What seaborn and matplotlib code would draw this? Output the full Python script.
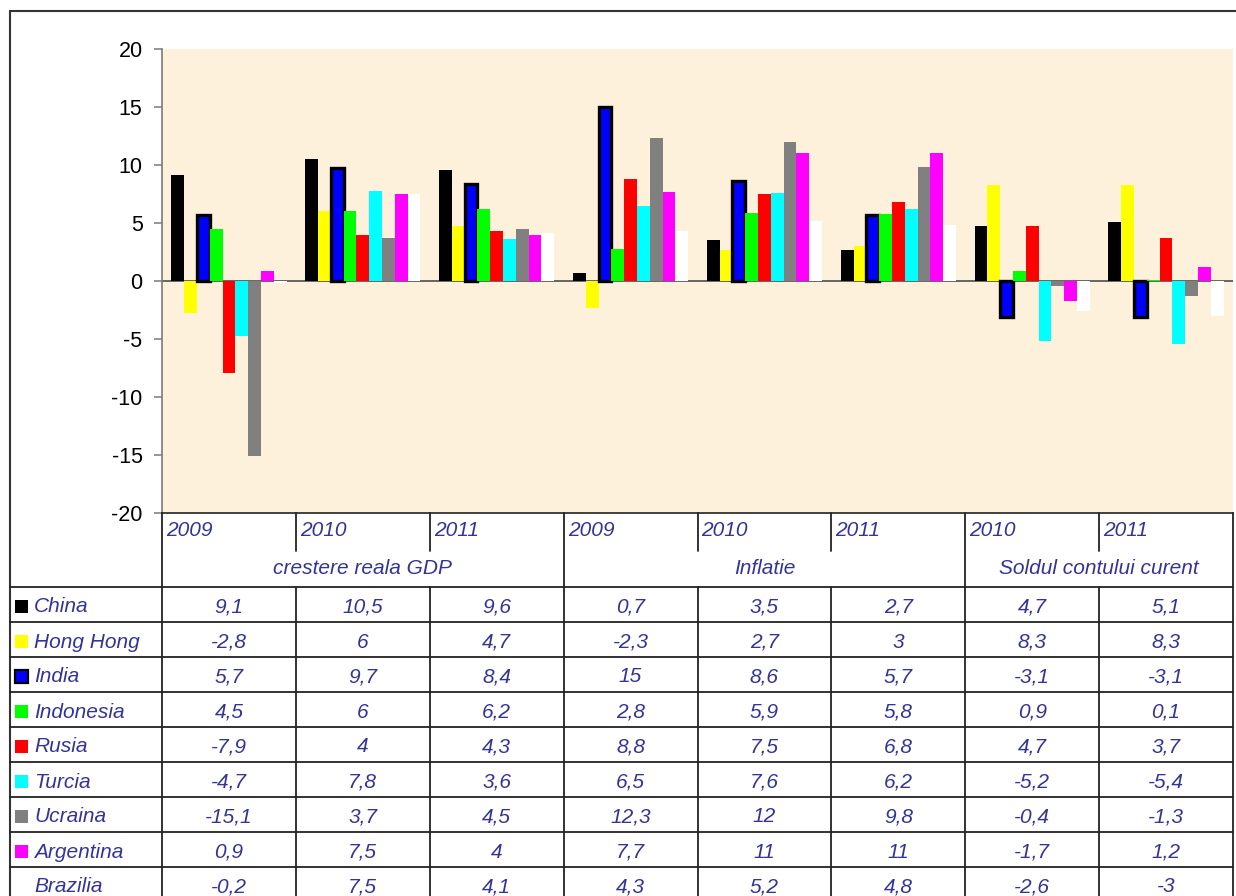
import numpy as np
import pandas as pd
import matplotlib
matplotlib.use("Agg")
import matplotlib.pyplot as plt
from matplotlib.patches import Rectangle
import seaborn as sns

# ---------------- data ----------------
countries = ["China", "Hong Hong", "India", "Indonesia", "Rusia", "Turcia",
             "Ucraina", "Argentina", "Brazilia"]
colors = ["#000000", "#FFFF00", "#0000FF", "#00FF00", "#FF0000", "#00FFFF",
          "#808080", "#FF00FF", "#FFFFFF"]
indicators = ["crestere reala GDP", "Inflatie", "Soldul contului curent"]
years = [["2009", "2010", "2011"], ["2009", "2010", "2011"], ["2010", "2011"]]

china = [9.1, 10.5, 9.6, 0.7, 3.5, 2.7, 4.7, 5.1]
hong_kong = [-2.8, 6, 4.7, -2.3, 2.7, 3, 8.3, 8.3]
india = [5.7, 9.7, 8.4, 15, 8.6, 5.7, -3.1, -3.1]
indonesia = [4.5, 6, 6.2, 2.8, 5.9, 5.8, 0.9, 0.1]
rusia = [-7.9, 4, 4.3, 8.8, 7.5, 6.8, 4.7, 3.7]
turcia = [-4.7, 7.8, 3.6, 6.5, 7.6, 6.2, -5.2, -5.4]
ucraina = [-15.1, 3.7, 4.5, 12.3, 12, 9.8, -0.4, -1.3]
argentina = [0.9, 7.5, 4, 7.7, 11, 11, -1.7, 1.2]
brazilia = [-0.2, 7.5, 4.1, 4.3, 5.2, 4.8, -2.6, -3]

series = [china, hong_kong, india, indonesia, rusia, turcia, ucraina,
          argentina, brazilia]
y_ticks = [-20, -15, -10, -5, 0, 5, 10, 15, 20]

cols = [f"{ind}|{yr}" for ind, yrs in zip(indicators, years) for yr in yrs]
rows = []
for c, vals in zip(countries, series):
    for col, v in zip(cols, vals):
        rows.append({"col": col, "country": c, "val": v})
df = pd.DataFrame(rows)

# ---------------- figure ----------------
sns.set_style("white")
plt.rcParams["font.family"] = ["Liberation Sans", "DejaVu Sans"]

W, H = 1236, 896
fig = plt.figure(figsize=(W / 100, H / 100), dpi=100)
fig.patch.set_facecolor("white")

PL, PR, PT, PB = 162, 1233, 49, 513
ax = fig.add_axes([PL / W, 1 - PB / H, (PR - PL) / W, (PB - PT) / H])
ax.set_facecolor("#FDF1DC")

sns.barplot(data=df, x="col", y="val", hue="country", order=cols,
            hue_order=countries, palette=colors, width=0.86, saturation=1,
            linewidth=0, errorbar=None, legend=False, ax=ax)

for p in ax.containers[countries.index("India")]:
    p.set_edgecolor("black")
    p.set_linewidth(2.4)

ax.axhline(0, color="#5a5a5a", lw=1.3, zorder=0.9)
ax.set_xlim(-0.5, len(cols) - 0.5)
ax.set_ylim(-20, 20)
ax.set_yticks(y_ticks)
ax.set_yticklabels([str(t) for t in y_ticks])
ax.set_xticks([])
ax.set_xlabel("")
ax.set_ylabel("")
for s in ["top", "right"]:
    ax.spines[s].set_visible(False)
ax.spines["left"].set_color("#7a7a7a")
ax.spines["left"].set_linewidth(1.2)
ax.spines["bottom"].set_color("#333333")
ax.spines["bottom"].set_linewidth(1.3)
ax.tick_params(axis="y", length=6, width=1.1, color="#7a7a7a",
               labelsize=15.5, labelcolor="black", pad=8, left=True)

# ---------------- table overlay ----------------
ov = fig.add_axes([0, 0, 1, 1], zorder=5)
ov.set_xlim(0, W)
ov.set_ylim(H, 0)
ov.axis("off")
ov.patch.set_alpha(0)

txt_col = "#333399"
line_col = "#222222"
lw = 1.3
xs = np.linspace(PL, PR, len(cols) + 1)
group_idx = [0, 3, 6, 8]
hdr_split = 551
row_top = 587
row_h = 35

# outer frame
ov.plot([10, W], [11, 11], color="#333333", lw=1.5)
ov.plot([10, 10], [11, H], color="#333333", lw=1.5)

for i, x in enumerate(xs):
    if i in group_idx:
        ov.plot([x, x], [PB, H], color=line_col, lw=lw)
    else:
        ov.plot([x, x], [PB, hdr_split], color=line_col, lw=lw)
        ov.plot([x, x], [row_top, H], color=line_col, lw=lw)

for k in range(len(countries)):
    y = row_top + k * row_h
    ov.plot([10, PR], [y, y], color=line_col, lw=lw)

# year headers
for j, col in enumerate(cols):
    yr = col.split("|")[1]
    ov.text(xs[j] + 4, 531, yr, ha="left", va="center", fontsize=15,
            style="italic", color=txt_col)

# indicator headers
for g, ind in enumerate(indicators):
    xc = (xs[group_idx[g]] + xs[group_idx[g + 1]]) / 2
    ov.text(xc, 569, ind, ha="center", va="center", fontsize=15,
            style="italic", color=txt_col)

# rows
for k, (c, colr, vals) in enumerate(zip(countries, colors, series)):
    yc = row_top + k * row_h + row_h / 2 + 2.5
    ec = "black" if c == "India" else colr
    ov.add_patch(Rectangle((15, yc - 7), 13, 13, facecolor=colr,
                           edgecolor=ec, lw=1.6 if c == "India" else 0))
    ov.text(34, yc, c, ha="left", va="center", fontsize=15,
            style="italic", color=txt_col)
    for j, v in enumerate(vals):
        lab = f"{v:g}".replace(".", ",")
        ov.text((xs[j] + xs[j + 1]) / 2, yc, lab, ha="center", va="center",
                fontsize=15, style="italic", color=txt_col)

fig.savefig("out.png", dpi=100, facecolor="white")
